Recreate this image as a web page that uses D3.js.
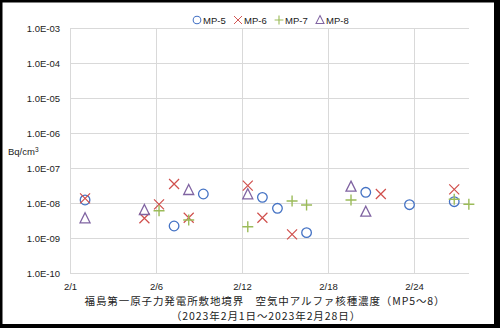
<!DOCTYPE html>
<html>
<head>
<meta charset="utf-8">
<script src="https://cdn.jsdelivr.net/npm/d3@7/dist/d3.min.js"></script>
<style>
  html, body { margin: 0; padding: 0; background: #000; }
  svg { display: block; }
</style>
</head>
<body>
<script>
// Sampling times (day of February, fractional) and concentrations in Bq/cm3
const mp5Days   = [1.55, 7.76, 9.80, 13.92, 14.97, 17.00, 21.13, 24.18, 27.30];
const mp5Values = [1.22e-8, 2.2e-9, 1.81e-8, 1.45e-8, 7.05e-9, 1.42e-9, 2.02e-8, 8.95e-9, 1.09e-8];

const mp6Days   = [1.55, 5.69, 6.71, 7.76, 8.78, 12.90, 13.92, 15.99, 22.18, 27.30];
const mp6Values = [1.36e-8, 3.66e-9, 9.1e-9, 3.49e-8, 3.8e-9, 3.13e-8, 3.8e-9, 1.27e-9, 1.81e-8, 2.45e-8];

const mp7Days   = [6.71, 8.78, 12.90, 15.99, 17.00, 20.10, 27.30, 28.32];
const mp7Values = [6.0e-9, 3.27e-9, 2.1e-9, 1.14e-8, 8.77e-9, 1.22e-8, 1.28e-8, 9.2e-9];

const mp8Days   = [1.55, 5.69, 8.78, 12.90, 20.10, 21.13];
const mp8Values = [3.66e-9, 6.3e-9, 2.35e-8, 1.77e-8, 2.93e-8, 5.65e-9];

const seriesNames = ["MP-5", "MP-6", "MP-7", "MP-8"];

const xTickValues = [0.5, 6.5, 12.5, 18.5, 24.5];
const xTickLabels = ["2/1", "2/6", "2/12", "2/18", "2/24"];
const yTickValues = [1e-10, 1e-9, 1e-8, 1e-7, 1e-6, 1e-5, 1e-4, 1e-3];
const yTickLabels = ["1.0E-10", "1.0E-09", "1.0E-08", "1.0E-07", "1.0E-06", "1.0E-05", "1.0E-04", "1.0E-03"];

const titleLine1 = "福島第一原子力発電所敷地境界　空気中アルファ核種濃度（MP5～8）";
const titleLine2 = "（2023年2月1日～2023年2月28日）";

const W = 500, H = 328;
const plot = { left: 70, right: 469, top: 28, bottom: 273 };

const svg = d3.select("body").append("svg").attr("width", W).attr("height", H);

// frame
svg.append("rect").attr("x", 0).attr("y", 0).attr("width", W).attr("height", H).attr("fill", "#000");
svg.append("rect").attr("x", 2.5).attr("y", 2.5).attr("width", 491.5).attr("height", 321.5).attr("fill", "#fff");

const x = d3.scaleLinear().domain([0.5, 28.33]).range([plot.left, plot.right]);
const y = d3.scaleLog().domain([1e-10, 1e-3]).range([plot.bottom, plot.top]);

const font = "'Liberation Sans', Arial, sans-serif";
const gridColor = "#d9d9d9";

// grid
const g = svg.append("g");
g.selectAll("line.hg").data(yTickValues).join("line")
  .attr("x1", plot.left).attr("x2", plot.right)
  .attr("y1", d => Math.round(y(d)) + 0.5).attr("y2", d => Math.round(y(d)) + 0.5)
  .attr("stroke", gridColor).attr("stroke-width", 1);
g.selectAll("line.vg").data(xTickValues).join("line")
  .attr("x1", d => Math.round(x(d)) + 0.5).attr("x2", d => Math.round(x(d)) + 0.5)
  .attr("y1", plot.top).attr("y2", plot.bottom)
  .attr("stroke", gridColor).attr("stroke-width", 1);

// axes (labels only, lines drawn as grid)
const yAxis = d3.axisLeft(y).tickValues(yTickValues)
  .tickFormat((d, i) => yTickLabels[i]).tickSize(0).tickPadding(10);
const yg = svg.append("g").attr("transform", `translate(${plot.left},0)`).call(yAxis);
yg.select(".domain").remove();
yg.selectAll("text").attr("font-family", font).attr("font-size", 9.5).attr("fill", "#222");

const xAxis = d3.axisBottom(x).tickValues(xTickValues)
  .tickFormat((d, i) => xTickLabels[i]).tickSize(0).tickPadding(10);
const xg = svg.append("g").attr("transform", `translate(0,${plot.bottom})`).call(xAxis);
xg.select(".domain").remove();
xg.selectAll("text").attr("font-family", font).attr("font-size", 9.5).attr("fill", "#222");

// unit label
const unit = svg.append("text").attr("x", 8).attr("y", 155)
  .attr("font-family", font).attr("font-size", 9.5).attr("fill", "#222");
unit.append("tspan").text("Bq/cm");
unit.append("tspan").attr("dy", -3).attr("font-size", 6.5).text("3");

// markers
const colors = ["#4472c4", "#d0504d", "#9bbb59", "#8064a2"];
const sym = [
  (sel) => sel.append("circle").attr("r", 4.8).attr("fill", "none").attr("stroke", colors[0]).attr("stroke-width", 1.3),
  (sel) => sel.append("path").attr("d", "M-5,-5L5,5M-5,5L5,-5").attr("fill", "none").attr("stroke", colors[1]).attr("stroke-width", 1.2),
  (sel) => sel.append("path").attr("d", "M-5.5,0L5.5,0M0,-5.5L0,5.5").attr("fill", "none").attr("stroke", colors[2]).attr("stroke-width", 1.4),
  (sel) => sel.append("path").attr("d", "M0,-5.5L5,4.5L-5,4.5Z").attr("fill", "none").attr("stroke", colors[3]).attr("stroke-width", 1.3)
];

const series = [
  { days: mp5Days, values: mp5Values },
  { days: mp6Days, values: mp6Values },
  { days: mp7Days, values: mp7Values },
  { days: mp8Days, values: mp8Values }
];

// draw in order so later series sit on top
series.forEach((s, k) => {
  const pts = s.days.map((d, i) => ({ d, v: s.values[i] }));
  const grp = svg.append("g");
  pts.forEach(p => {
    const m = grp.append("g").attr("transform", `translate(${x(p.d)},${y(p.v)})`);
    sym[k](m);
  });
});

// legend
const legendX = [197, 238, 279, 320];
const lg = svg.append("g");
seriesNames.forEach((name, k) => {
  const m = lg.append("g").attr("transform", `translate(${legendX[k]},20) scale(0.8)`);
  sym[k](m);
  lg.append("text").attr("x", legendX[k] + 6).attr("y", 23.5)
    .attr("font-family", font).attr("font-size", 9.5).attr("fill", "#222").text(name);
});

// titles
const cjk = "'Noto Sans CJK JP', sans-serif";
svg.append("text").attr("x", 265).attr("y", 305).attr("text-anchor", "middle")
  .attr("font-family", cjk).attr("font-size", 10.5).attr("fill", "#222")
  .attr("letter-spacing", 0.9).text(titleLine1);
svg.append("text").attr("x", 266).attr("y", 320).attr("text-anchor", "middle")
  .attr("font-family", cjk).attr("font-size", 10.5).attr("fill", "#222")
  .attr("letter-spacing", 0.9).text(titleLine2);
</script>
</body>
</html>
